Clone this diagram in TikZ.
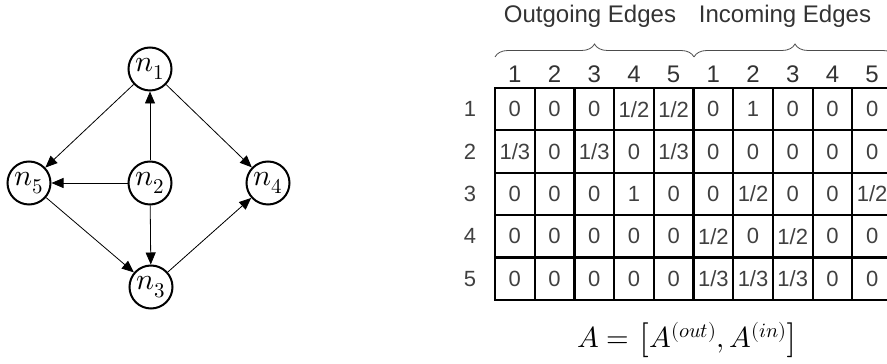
\documentclass[tikz,border=0pt]{standalone}
\usepackage{fontspec}
\usepackage{unicode-math}
\setmathfont{Latin Modern Math}
\newfontfamily\tabfont{Liberation Sans}
\usetikzlibrary{arrows.meta,decorations.pathreplacing}
\begin{document}
\begin{tikzpicture}[x=1pt,y=1pt,
 vertex/.style={circle,draw,line width=2pt,minimum size=43pt,inner sep=0pt,font=\fontsize{30}{32}\selectfont},
 edge/.style={line width=0.8pt,-{Triangle[length=12pt,width=10pt]}},
 cell/.style={draw,line width=2.2pt,minimum width=39.7pt,minimum height=42.4pt,inner sep=0pt,font=\tabfont\fontsize{22}{23}\selectfont,text=black!75},
 lbl/.style={font=\tabfont\fontsize{22}{23}\selectfont,text=black!75},
 hdr/.style={font=\tabfont\fontsize{24}{25}\selectfont,text=black!80},
 brc/.style={decorate,decoration={brace,amplitude=13pt},line width=0.8pt,draw=black!70}]
\useasboundingbox (0,0) rectangle (887,364);
\clip (0,0) rectangle (887,364);
% graph
\node[vertex] (n1) at (150,295) {$n_1$};
\node[vertex] (n2) at (150,181) {$n_2$};
\node[vertex] (n5) at (29,181) {$n_5$};
\node[vertex] (n4) at (268,181) {$n_4$};
\node[vertex] (n3) at (151,77) {$n_3$};
\draw[edge] (n1) -- (n5);
\draw[edge] (n1) -- (n4);
\draw[edge] (n2) -- (n1);
\draw[edge] (n2) -- (n5);
\draw[edge] (n2) -- (n3);
\draw[edge] (n5) -- (n3);
\draw[edge] (n3) -- (n4);
% table
\foreach \row [count=\r] in {{0,0,0,1/2,1/2,0,1,0,0,0},{1/3,0,1/3,0,1/3,0,0,0,0,0},{0,0,0,1,0,0,1/2,0,0,1/2},{0,0,0,0,0,1/2,0,1/2,0,0},{0,0,0,0,0,1/3,1/3,1/3,0,0}}{
  \foreach \v [count=\c] in \row {
    \node[cell] (c\r-\c) at ({495+39.7*(\c-0.5)},{364-(88+42.4*(\r-0.5))}) {\v};
  }
  \node[lbl] (r\r) at (470,{364-(88+42.4*(\r-0.5))}) {\r};
}
\foreach \c [count=\i] in {1,2,3,4,5,1,2,3,4,5}{
  \node[hdr] (h\i) at ({495+39.7*(\i-0.5)},290) {\c};
}
\coordinate (bA) at (495,307);
\coordinate (bB) at (694,307);
\coordinate (bC) at (896,307);
\draw[brc] (bA) -- (bB);
\draw[brc] (bB) -- (bC);
\node[hdr] (out) at (590,348) {Outgoing Edges};
\node[hdr] (in) at (785,348) {Incoming Edges};
\node (eq) at (688,24) {\fontsize{29}{31}\selectfont $A=\left[A^{(out)},A^{(in)}\right]$};
\end{tikzpicture}
\end{document}
